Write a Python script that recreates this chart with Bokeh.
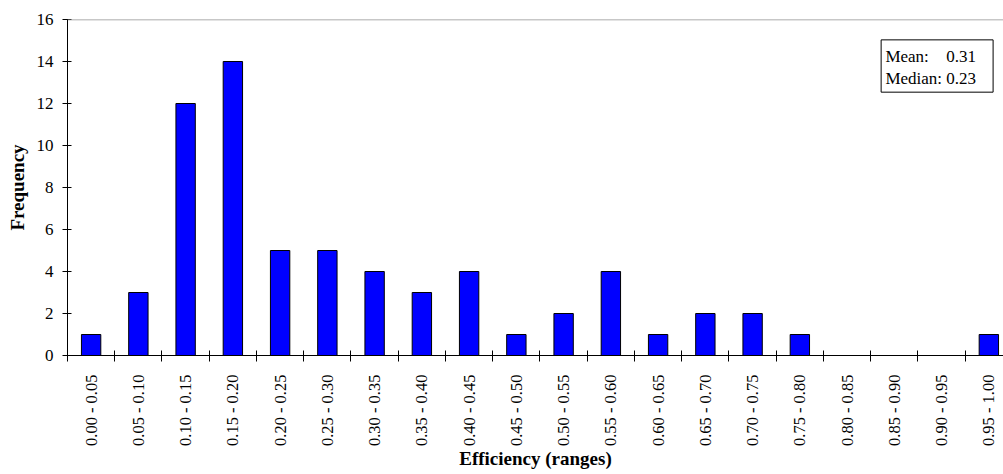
import math
from bokeh.plotting import figure
from bokeh.models import (Range1d, FixedTicker, CustomJSTickFormatter, Span,
                          BoxAnnotation, Label, ColumnDataSource)
from bokeh.embed import file_html
from bokeh.resources import INLINE

categories = ["0.00 - 0.05", "0.05 - 0.10", "0.10 - 0.15", "0.15 - 0.20",
              "0.20 - 0.25", "0.25 - 0.30", "0.30 - 0.35", "0.35 - 0.40",
              "0.40 - 0.45", "0.45 - 0.50", "0.50 - 0.55", "0.55 - 0.60",
              "0.60 - 0.65", "0.65 - 0.70", "0.70 - 0.75", "0.75 - 0.80",
              "0.80 - 0.85", "0.85 - 0.90", "0.90 - 0.95", "0.95 - 1.00"]
frequency = [1, 3, 12, 14, 5, 5, 4, 3, 4, 1, 2, 4, 1, 2, 2, 1, 0, 0, 0, 1]
y_ticks = [0, 2, 4, 6, 8, 10, 12, 14, 16]
mean_text = "0.31"
median_text = "0.23"
x_title = "Efficiency (ranges)"
y_title = "Frequency"

FONT = "Liberation Serif"

centers = [i + 0.5 for i in range(len(categories))]
bounds = list(range(len(categories) + 1))

src = ColumnDataSource(dict(x=centers, top=frequency, cat=categories))

p = figure(width=1003, height=474, output_backend="svg", toolbar_location=None,
           x_range=Range1d(0, 19.81), y_range=Range1d(0, 16),
           min_border_left=67, min_border_right=0, min_border_top=19,
           min_border_bottom=119)
p.outline_line_color = None
p.xgrid.visible = False
p.ygrid.visible = False
p.background_fill_color = "white"
p.border_fill_color = "white"

p.vbar(x="x", top="top", width=0.41, source=src, fill_color="#0000FF",
       line_color="black", line_width=1)

# top grey border line
p.add_layout(Span(location=16, dimension="width", line_color="#909090", line_width=1.5))

# x axis
xa = p.xaxis[0]
xa.ticker = FixedTicker(ticks=centers, minor_ticks=bounds)
xa.formatter = CustomJSTickFormatter(args=dict(labels=categories),
                                     code="return labels[Math.floor(tick)];")
xa.major_tick_out = 0
xa.major_tick_in = 0
xa.minor_tick_out = 6
xa.minor_tick_in = 5
xa.minor_tick_line_color = "black"
xa.axis_line_color = "black"
xa.major_label_orientation = math.pi / 2
xa.major_label_standoff = 13
xa.major_label_text_font = FONT
xa.major_label_text_font_size = "16.5px"
xa.major_label_text_color = "black"
xa.axis_label = x_title
xa.axis_label_text_font = FONT
xa.axis_label_text_font_style = "bold"
xa.axis_label_text_font_size = "19px"
xa.axis_label_text_color = "black"
xa.axis_label_standoff = -1

# y axis
ya = p.yaxis[0]
ya.ticker = FixedTicker(ticks=y_ticks)
ya.minor_tick_line_color = None
ya.major_tick_out = 5
ya.major_tick_in = 4
ya.major_tick_line_color = "black"
ya.axis_line_color = "black"
ya.major_label_standoff = 9
ya.major_label_text_font = FONT
ya.major_label_text_font_size = "17px"
ya.major_label_text_color = "black"
ya.axis_label = y_title
ya.axis_label_text_font = FONT
ya.axis_label_text_font_style = "bold"
ya.axis_label_text_font_size = "19px"
ya.axis_label_text_color = "black"
ya.axis_label_standoff = 6

# stats box
p.add_layout(BoxAnnotation(left=17.22, right=19.59, top=15.03, bottom=12.54,
                           fill_color="white", fill_alpha=1.0,
                           line_color="black", line_width=1, line_alpha=1.0))
for txt, x, y in [("Mean:", 17.31, 14.24), (mean_text, 18.60, 14.24),
                  ("Median:", 17.31, 13.17), (median_text, 18.60, 13.17)]:
    p.add_layout(Label(x=x, y=y, text=txt, text_font=FONT, text_font_size="17px",
                       text_color="black", text_baseline="alphabetic"))

open("out.html", "w").write(file_html(p, INLINE))
